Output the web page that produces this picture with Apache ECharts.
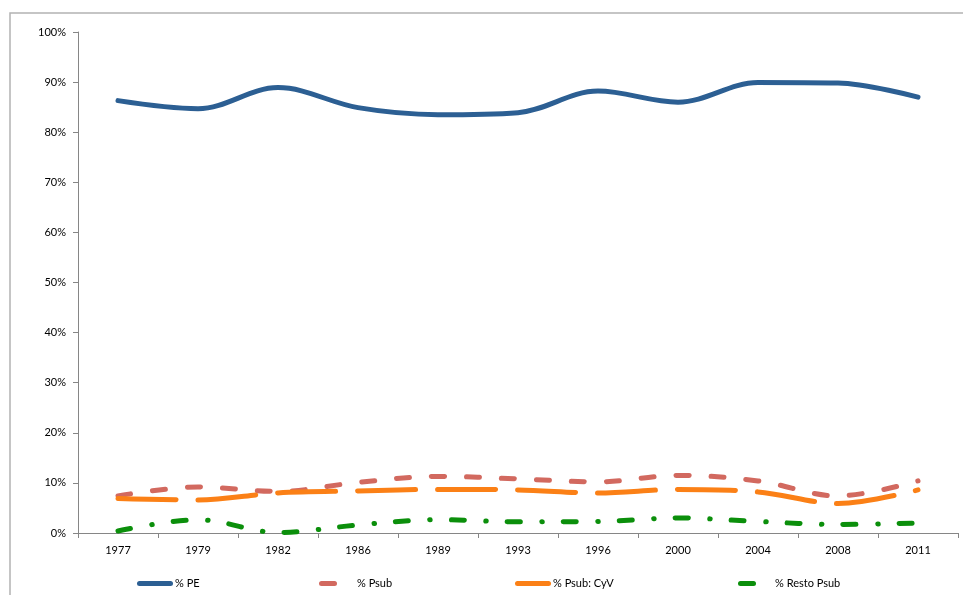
<!DOCTYPE html>
<html>
<head>
<meta charset="utf-8">
<title>% PE / % Psub</title>
<script src="https://cdn.jsdelivr.net/npm/echarts@6/dist/echarts.min.js"></script>
<style>
  html, body { margin: 0; padding: 0; background: #fff; }
  #chart { width: 963px; height: 595px; }
</style>
</head>
<body>
<div id="chart"></div>
<script>
// Election years on the category axis
const years = ['1977', '1979', '1982', '1986', '1989', '1993', '1996', '2000', '2004', '2008', '2011'];

// Vote shares, in percent
const pe    = [86.3, 84.7, 88.9, 84.9, 83.5, 83.9, 88.2, 86.0, 89.9, 89.8, 87.0];
const psub  = [7.4, 9.2, 8.3, 10.1, 11.3, 10.8, 10.2, 11.5, 10.4, 7.4, 10.4];
const cyv   = [6.9, 6.6, 8.0, 8.4, 8.7, 8.6, 8.0, 8.7, 8.2, 5.9, 8.6];
const resto = [0.4, 2.65, 0.1, 1.6, 2.65, 2.25, 2.3, 3.0, 2.3, 1.7, 2.0];

// Value axis ticks
const yMin = 0, yMax = 100, yStep = 10;

const FONT = 'Lato, "Open Sans", sans-serif';
const names = ['% PE', '% Psub', '% Psub: CyV', '% Resto Psub'];
const colors = ['#2c5f93', '#d2695f', '#fb8016', '#0b8f0b'];

// Rounded bar used as legend key (scaled to itemWidth x itemHeight)
const KEY_LONG  = 'path://M2.5,0H33.5A2.5,2.5,0,0,1,33.5,5H2.5A2.5,2.5,0,0,1,2.5,0Z';
const KEY_SHORT = 'path://M2.5,0H15.5A2.5,2.5,0,0,1,15.5,5H2.5A2.5,2.5,0,0,1,2.5,0Z';

const chart = echarts.init(document.getElementById('chart'), null, { renderer: 'canvas' });

function lineSeries(name, data, color, dash, z) {
  return {
    name: name,
    type: 'line',
    data: data,
    smooth: 0.35,
    symbol: 'none',
    z: z,
    lineStyle: { color: color, width: 5, type: dash, cap: 'round', join: 'round' },
    itemStyle: { color: color }
  };
}

function legendFor(name, left, icon, width, textPad) {
  return {
    data: [{ name: name, icon: icon }],
    left: left,
    top: 578,
    itemWidth: width,
    itemHeight: 5,
    padding: 0,
    textStyle: {
      fontFamily: FONT,
      fontSize: 11,
      color: '#000',
      padding: [0, 0, 0, textPad]
    }
  };
}

chart.setOption({
  animation: false,
  backgroundColor: '#fff',
  textStyle: { fontFamily: FONT },
  graphic: [{
    type: 'rect',
    shape: { x: 10, y: 13, width: 1200, height: 1200 },
    style: { fill: 'none', stroke: '#b3b3b3', lineWidth: 1.5 },
    silent: true,
    z: -10
  }],
  legend: [
    legendFor(names[0], 137, KEY_LONG, 36, -3),
    legendFor(names[1], 319, KEY_SHORT, 18, 15),
    legendFor(names[2], 515, KEY_LONG, 36, -3),
    legendFor(names[3], 738, KEY_SHORT, 18, 14)
  ],
  grid: { left: 78, right: 5, top: 32, bottom: 62, containLabel: false },
  xAxis: {
    type: 'category',
    data: years,
    boundaryGap: true,
    axisLine: { lineStyle: { color: '#868686', width: 1 } },
    axisTick: { show: true, length: 5, lineStyle: { color: '#868686' } },
    axisLabel: { color: '#000', fontSize: 11, fontFamily: FONT, margin: 12 },
    splitLine: { show: false }
  },
  yAxis: {
    type: 'value',
    min: yMin,
    max: yMax,
    interval: yStep,
    axisLine: { show: true, lineStyle: { color: '#868686', width: 1 } },
    axisTick: { show: true, length: 5, lineStyle: { color: '#868686' } },
    axisLabel: { color: '#000', fontSize: 11, fontFamily: FONT, margin: 12, formatter: '{value}%' },
    splitLine: { show: false }
  },
  series: [
    lineSeries(names[0], pe, colors[0], 'solid', 2),
    lineSeries(names[1], psub, colors[1], [13, 22], 3),
    lineSeries(names[2], cyv, colors[2], [58, 22], 4),
    lineSeries(names[3], resto, colors[3], [13, 21.5, 0.5, 21], 5)
  ]
});
</script>
</body>
</html>
